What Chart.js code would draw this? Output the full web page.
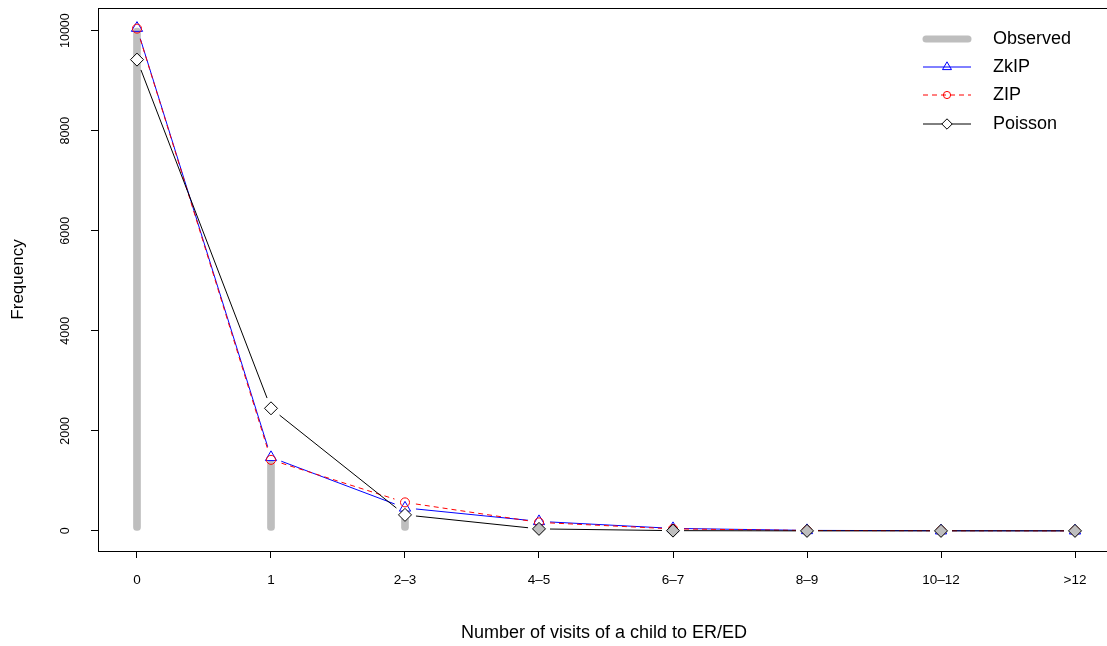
<!DOCTYPE html>
<html>
<head>
<meta charset="utf-8">
<title>Visitas a urgencias</title>
<script src="https://cdn.jsdelivr.net/npm/chart.js@4.4.1/dist/chart.umd.min.js"></script>
<style>
  html, body { margin: 0; padding: 0; background: #fff; overflow: hidden; }
  #lienzo { position: relative; width: 1125px; height: 646px; }
</style>
</head>
<body>
<div id="lienzo"><canvas id="grafico-visitas" width="1125" height="646"></canvas></div>
<script>
// Frecuencias observadas y ajustadas por número de visitas
const categorias = ["0", "1", "2–3", "4–5", "6–7", "8–9", "10–12", ">12"];
const observado = [10050, 1400, 290, 60, 20, 6, 3, 2];
const zkip = [10050, 1470, 460, 190, 50, 10, 4, 2];
const zip = [10040, 1420, 570, 170, 40, 8, 3, 1];
const poisson = [9420, 2450, 320, 40, 5, 0, 0, 0];
const ticksY = [0, 2000, 4000, 6000, 8000, 10000];

const fuente = '"Liberation Sans", Arial, Helvetica, sans-serif';
const HUECO = 11; // hueco entre segmento y símbolo (estilo type="b")

const aPuntos = serie => serie.map((y, i) => ({ x: i + 1, y }));

// Segmentos recortados, caja, etiquetas del eje Y y leyenda
const marcoR = {
  id: 'marcoR',
  beforeDatasetDraw(chart, args) {
    const ds = chart.data.datasets[args.index];
    if (ds.type === 'bar') return;
    const pts = args.meta.data;
    const ctx = chart.ctx;
    const a = chart.chartArea;
    ctx.save();
    ctx.beginPath();
    ctx.rect(a.left, a.top, a.right - a.left, a.bottom - a.top);
    ctx.clip();
    ctx.strokeStyle = ds.borderColor;
    ctx.lineWidth = ds.borderWidth;
    ctx.setLineDash(ds.borderDash || []);
    for (let i = 0; i < pts.length - 1; i++) {
      const p = pts[i], q = pts[i + 1];
      const dx = q.x - p.x, dy = q.y - p.y, d = Math.hypot(dx, dy);
      if (d <= 2 * HUECO) continue;
      const ux = dx / d, uy = dy / d;
      ctx.beginPath();
      ctx.moveTo(p.x + ux * HUECO, p.y + uy * HUECO);
      ctx.lineTo(q.x - ux * HUECO, q.y - uy * HUECO);
      ctx.stroke();
    }
    ctx.restore();
  },
  afterDraw(chart) {
    const { ctx, chartArea: a, scales: { y } } = chart;
    ctx.save();

    // caja del gráfico
    ctx.strokeStyle = '#000';
    ctx.lineWidth = 1;
    ctx.strokeRect(Math.round(a.left) + 0.5, Math.round(a.top) + 0.5,
      Math.round(a.right - a.left), Math.round(a.bottom - a.top));

    // etiquetas del eje Y, giradas
    ctx.fillStyle = '#000';
    ctx.textAlign = 'center';
    ctx.textBaseline = 'middle';
    ctx.font = `12.5px ${fuente}`;
    y.ticks.forEach(t => {
      ctx.save();
      ctx.translate(66, y.getPixelForValue(t.value));
      ctx.rotate(-Math.PI / 2);
      ctx.fillText(String(t.value), 0, 0);
      ctx.restore();
    });

    // títulos de los ejes
    ctx.font = `17px ${fuente}`;
    ctx.save();
    ctx.translate(18, (a.top + a.bottom) / 2);
    ctx.rotate(-Math.PI / 2);
    ctx.fillText('Frequency', 0, 0);
    ctx.restore();
    ctx.font = `18px ${fuente}`;
    ctx.fillText('Number of visits of a child to ER/ED', 604, 633);

    // leyenda
    const filas = [39, 67, 95, 124];
    const x1 = 923, x2 = 971, xm = 947, xt = 993;
    ctx.textAlign = 'left';
    ctx.font = `18px ${fuente}`;

    ctx.lineCap = 'round';
    ctx.lineWidth = 7;
    ctx.strokeStyle = '#bebebe';
    ctx.beginPath(); ctx.moveTo(x1 + 3, filas[0]); ctx.lineTo(x2 - 3, filas[0]); ctx.stroke();
    ctx.lineCap = 'butt';
    ctx.fillText('Observed', xt, filas[0]);

    const series = chart.data.datasets.filter(d => d.type !== 'bar');
    ['ZkIP', 'ZIP', 'Poisson'].forEach((nombre, k) => {
      const ds = series.find(d => d.label === nombre);
      const fy = filas[k + 1];
      ctx.strokeStyle = ds.borderColor;
      ctx.lineWidth = 1;
      ctx.setLineDash(ds.borderDash || []);
      ctx.beginPath(); ctx.moveTo(x1, fy); ctx.lineTo(x2, fy); ctx.stroke();
      ctx.setLineDash([]);
      ctx.fillStyle = nombre === 'Poisson' ? '#fff' : 'rgba(0,0,0,0)';
      Chart.helpers.drawPoint(ctx, {
        pointStyle: ds.pointStyle,
        radius: ds.pointRadius * 0.8,
        borderWidth: 1,
        rotation: 0
      }, xm, fy);
      ctx.fillStyle = '#000';
      ctx.fillText(nombre, xt, fy);
    });

    ctx.restore();
  }
};

new Chart(document.getElementById('grafico-visitas'), {
  type: 'line',
  data: {
    datasets: [
      {
        type: 'bar',
        label: 'Observed',
        data: aPuntos(observado),
        backgroundColor: '#bebebe',
        barThickness: 7,
        borderRadius: 3.5,
        borderSkipped: false,
        order: 3
      },
      {
        label: 'ZkIP',
        data: aPuntos(zkip),
        showLine: false,
        borderColor: '#0000ff',
        borderWidth: 1,
        pointStyle: 'triangle',
        pointRadius: 6.5,
        pointBorderColor: '#0000ff',
        pointBackgroundColor: 'rgba(0,0,0,0)',
        pointBorderWidth: 1,
        order: 2
      },
      {
        label: 'ZIP',
        data: aPuntos(zip),
        showLine: false,
        borderColor: '#ff0000',
        borderWidth: 1,
        borderDash: [5, 4],
        pointStyle: 'circle',
        pointRadius: 4.5,
        pointBorderColor: '#ff0000',
        pointBackgroundColor: 'rgba(0,0,0,0)',
        pointBorderWidth: 1,
        order: 1
      },
      {
        label: 'Poisson',
        data: aPuntos(poisson),
        showLine: false,
        borderColor: '#000000',
        borderWidth: 1,
        pointStyle: 'rectRot',
        pointRadius: 6.5,
        pointBorderColor: '#000000',
        pointBackgroundColor: ['#fff', '#fff', '#fff', '#bebebe', '#bebebe', '#bebebe', '#bebebe', '#bebebe'],
        pointBorderWidth: 1,
        order: 0
      }
    ]
  },
  options: {
    responsive: false,
    animation: false,
    layout: { padding: { left: 0, top: 8, right: 11, bottom: 0 } },
    plugins: { legend: { display: false }, tooltip: { enabled: false } },
    scales: {
      x: {
        type: 'linear',
        min: 0.709,
        max: 8.291,
        offset: false,
        afterBuildTicks: s => { s.ticks = categorias.map((c, i) => ({ value: i + 1 })); },
        afterFit: s => { s.height = 95; },
        ticks: {
          callback: v => categorias[v - 1] ?? '',
          autoSkip: false,
          maxRotation: 0,
          padding: 14,
          color: '#000',
          font: { family: fuente, size: 13.5 }
        },
        grid: { drawOnChartArea: false, offset: false, tickLength: 7, color: '#000' },
        border: { display: false }
      },
      y: {
        min: -402,
        max: 10452,
        afterBuildTicks: s => { s.ticks = ticksY.map(v => ({ value: v })); },
        afterFit: s => { s.width = 98; },
        ticks: { display: false },
        grid: { drawOnChartArea: false, tickLength: 7, color: '#000' },
        border: { display: false }
      }
    }
  },
  plugins: [marcoR]
});
</script>
</body>
</html>
